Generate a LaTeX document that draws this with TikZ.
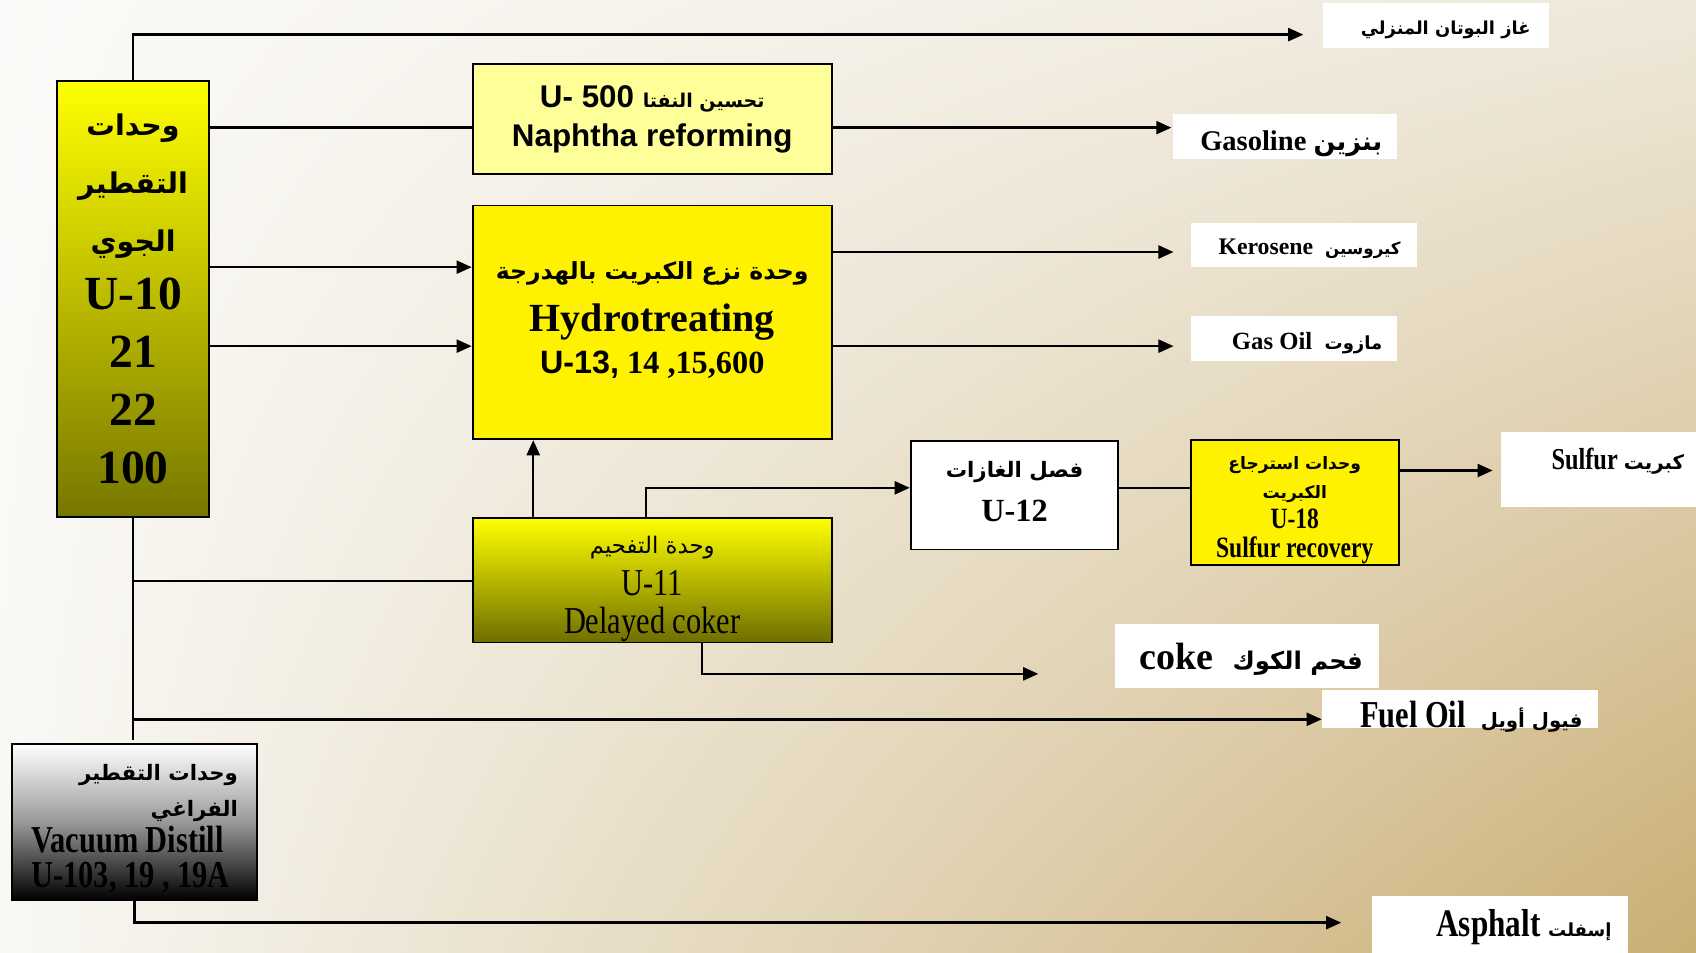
\documentclass[tikz,border=0pt]{standalone}
\usepackage{fontspec}
\setmainfont{Liberation Serif}
\setsansfont{Liberation Sans}
\newfontfamily\arabicfont[Script=Arabic]{DejaVu Sans}
\newfontfamily\narrowserif[FakeStretch=0.8]{Liberation Serif}
\TeXXeTstate=1
\usetikzlibrary{arrows.meta,shadings}
\definecolor{bgUL}{HTML}{FBFAF8}
\definecolor{bgUR}{HTML}{EFE8DA}
\definecolor{bgLL}{HTML}{F9F8F5}
\definecolor{bgLR}{HTML}{C9AE74}
\definecolor{paleyellow}{HTML}{FFFF99}
\definecolor{oliveA}{HTML}{777700}
\definecolor{oliveB}{HTML}{6E6E00}
\newcommand{\arfont}[1]{\arabicfont\fontsize{#1}{#1}\selectfont}

\begin{document}
\begin{tikzpicture}[x=0.2mm, y=-0.2mm,
        unit/.style={draw=black,line width=1pt,align=center,inner sep=2pt},
        product/.style={fill=white,align=flush right,inner sep=0pt,anchor=base},
        arrow/.style={-{Triangle[length=2.8mm,width=2.4mm]},line width=1.3pt},
        pipe/.style={line width=1.3pt},
        thinpipe/.style={line width=0.8pt}]
        \useasboundingbox (0,0) rectangle (1568,881);
        \shade[upper left=bgUL,upper right=bgUR,lower left=bgLL,lower right=bgLR] (0,0) rectangle (1568,881);

        \node[unit,top color=yellow,bottom color=oliveA,minimum width=28mm,minimum height=80.6mm,
          font=\bfseries\fontsize{25}{30.5}\selectfont] (atm) at (123,276.5)
          {{\arfont{15}\beginR وحدات\endR}\\{\arfont{15}\beginR التقطير\endR}\\{\arfont{15}\beginR الجوي\endR}\\U-10\\21\\22\\100};
        \node[unit,fill=paleyellow,minimum width=66.4mm,minimum height=20.4mm,
          font=\sffamily\bfseries\fontsize{16.5}{20.5}\selectfont] (naph) at (603,110)
          {U- 500 {\arfont{10}\beginR تحسين  النفتا\endR}\\Naphtha reforming\rule[-3pt]{0pt}{1pt}};
        \node[unit,fill=yellow,minimum width=66.4mm,minimum height=43.2mm,
          font=\bfseries\fontsize{17}{22}\selectfont] (hydro) at (603,298)
          {{\arfont{12.4}\beginR وحدة نزع الكبريت بالهدرجة\endR}\\[5pt]{\fontsize{21}{25}\selectfont Hydrotreating}\\{\sffamily U-13,} 14 ,15,600\rule[-5pt]{0pt}{1pt}};
        \node[unit,top color=yellow,bottom color=oliveB,minimum width=66.4mm,minimum height=23mm,inner ysep=0pt,
          font=\narrowserif\fontsize{20}{20}\selectfont] (coker) at (603,536.5)
          {\rule{0pt}{18pt}{\arfont{12}\beginR وحدة التفحيم\endR}\\[2pt]U-11\\Delayed coker};
        \node[unit,fill=white,minimum width=38.4mm,minimum height=20mm,
          font=\bfseries\fontsize{17}{23}\selectfont] (gassep) at (938,458)
          {{\arfont{11.2}\beginR فصل الغازات\endR}\\U-12\rule[-4pt]{0pt}{1pt}};
        \node[unit,fill=yellow,minimum width=38.4mm,minimum height=23mm,inner ysep=0pt,
          font=\narrowserif\bfseries\fontsize{15.5}{15.4}\selectfont] (sulrec) at (1197,464.5)
          {\rule{0pt}{15pt}{\arfont{9}\beginR وحدات استرجاع\endR}\\{\arfont{9}\beginR الكبريت\endR}\\U-18\\Sulfur recovery};
        \node[unit,top color=white,bottom color=black,middle color=black!40,minimum width=45.4mm,minimum height=28.8mm,
          text width=38.2mm,align=flush left,font=\narrowserif\bfseries\fontsize{20}{18.8}\selectfont] (vac) at (124.5,760)
          {\rule{0pt}{16pt}\hfill{\arfont{11.2}\beginR وحدات  التقطير\endR}\\\mbox{}\hfill{\arfont{11.2}\beginR الفراغي\endR}\\Vacuum Distill\\U-103, 19 , 19A};

        \node[product,minimum width=41.8mm,text width=35mm,text height=5.8mm,text depth=2.4mm,
          font=\bfseries] (butane) at (1327.5,32)
          {{\arfont{9.4}\beginR غاز البوتان المنزلي\endR}};
        \node[product,minimum width=41.6mm,text width=36mm,text height=6.8mm,text depth=1.6mm,
          font=\bfseries\fontsize{15}{17}\selectfont] (gasoline) at (1188,139)
          {Gasoline {\arfont{13.5}\beginR بنزين\endR}};
        \node[product,minimum width=41.8mm,text width=35.8mm,text height=5.8mm,text depth=2.4mm,
          font=\bfseries\fontsize{12.5}{15}\selectfont] (kero) at (1205.5,235)
          {Kerosene\ \ {\arfont{8.8}\beginR كيروسين\endR}};
        \node[product,minimum width=38.2mm,text width=32.6mm,text height=6.2mm,text depth=2.2mm,
          font=\bfseries\fontsize{13}{15}\selectfont] (gasoil) at (1196.5,323)
          {Gas Oil\ \ {\arfont{9.5}\beginR مازوت\endR}};
        \node[product,minimum width=36mm,text width=31.6mm,text height=7mm,text depth=7mm,
          font=\narrowserif\bfseries\fontsize{16}{18}\selectfont] (sulfur) at (1478,434)
          {Sulfur {\arfont{10.4}\beginR كبريت\endR}};
        \node[product,minimum width=48.8mm,text width=42.8mm,text height=8.4mm,text depth=3.4mm,
          font=\bfseries\fontsize{20}{22}\selectfont] (coke) at (1153,619)
          {coke\ \ {\arfont{12.8}\beginR فحم الكوك\endR}};
        \node[product,minimum width=51mm,text width=45.4mm,text height=7mm,text depth=0pt,
          font=\narrowserif\bfseries\fontsize{20}{22}\selectfont] (fuel) at (1349.5,673)
          {Fuel Oil\ \ {\arfont{10.4}\beginR فيول أويل\endR}};
        \node[product,minimum width=47.4mm,text width=41.4mm,text height=7.6mm,text depth=3mm,
          font=\narrowserif\bfseries\fontsize{20.5}{22}\selectfont] (asph) at (1386.5,866)
          {Asphalt {\arfont{9.5}\beginR إسفلت\endR}};

        \coordinate (butaneEnd) at (1205,32);
        \coordinate (gasolineEnd) at (1083,118);
        \coordinate (keroEnd) at (1085,233);
        \coordinate (gasoilEnd) at (1085,320);
        \coordinate (sulfurEnd) at (1380,435);
        \coordinate (cokeEnd) at (960,623);
        \coordinate (fuelEnd) at (1222,665);
        \coordinate (asphEnd) at (1240,853);
        \coordinate (atmTail) at (123,684);

        \draw[arrow] (atm.north) |- (butaneEnd);
        \draw[pipe] (atm.east |- 0,118) -- (naph.west |- 0,118);
        \draw[arrow] (naph.east |- 0,118) -- (gasolineEnd);
        \draw[arrow] (atm.east |- 0,247) -- (hydro.west |- 0,247);
        \draw[arrow] (atm.east |- 0,320) -- (hydro.west |- 0,320);
        \draw[arrow] (hydro.east |- 0,233) -- (keroEnd);
        \draw[arrow] (hydro.east |- 0,320) -- (gasoilEnd);
        \draw[arrow] (coker.north -| 493,0) -- (hydro.south -| 493,0);
        \draw[arrow] (coker.north -| 597,0) |- (gassep.west |- 0,451);
        \draw[pipe] (gassep.east |- 0,451) -- (sulrec.west |- 0,451);
        \draw[arrow] (sulrec.east |- 0,435) -- (sulfurEnd);
        \draw[thinpipe] (atm.south) -- (atmTail);
        \draw[thinpipe] (atm.south |- 0,537) -- (coker.west |- 0,537);
        \draw[arrow] (coker.south -| 649,0) |- (cokeEnd);
        \draw[arrow] (atm.south |- 0,665) -- (fuelEnd);
        \draw[arrow] (vac.south) |- (asphEnd);
      \end{tikzpicture}
\end{document}
